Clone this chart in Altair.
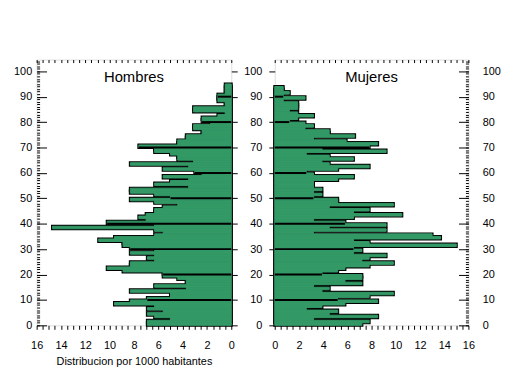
import altair as alt
import pandas as pd

# ---- data (distribution per 1000 inhabitants, by single year of age) ----
edad_h = list(range(95))
hombres = [6.9, 6.9, 5.0, 6.3, 6.9, 5.6, 6.9, 6.3, 9.6, 8.3,
           6.9, 5.0, 5.0, 8.3, 3.7, 6.3, 3.7, 3.7, 4.4, 5.6,
           5.6, 8.9, 10.2, 8.3, 8.3, 6.3, 6.9, 6.3, 8.3, 6.3,
           8.3, 8.9, 8.9, 10.9, 9.6, 6.3, 5.6, 6.3, 14.7, 6.3,
           10.2, 7.0, 7.6, 7.0, 6.3, 6.3, 5.6, 4.4, 6.3, 8.3,
           5.0, 6.3, 8.3, 8.3, 3.5, 6.3, 5.0, 3.5, 5.6, 2.4,
           3.0, 5.6, 3.5, 8.3, 3.1, 4.4, 4.4, 5.0, 6.3, 6.3,
           7.6, 4.4, 4.4, 3.7, 3.7, 2.4, 2.4, 3.1, 3.1, 1.7,
           2.4, 2.4, 1.1, 0.5, 3.1, 3.1, 0.5, 0.5, 1.1, 1.1,
           1.1, 0.5, 0.5, 0.5, 0.5]
edad_m = list(range(94))
mujeres = [7.2, 7.8, 3.2, 8.5, 4.5, 5.2, 2.6, 3.9, 5.8, 8.5,
           5.2, 7.8, 9.8, 3.9, 4.5, 3.2, 7.2, 5.8, 7.2, 7.2,
           3.9, 5.2, 5.8, 7.8, 9.8, 7.2, 7.8, 9.2, 6.5, 7.2,
           6.5, 15.0, 7.8, 6.5, 13.7, 13.0, 3.2, 9.2, 4.5, 9.2,
           5.8, 3.2, 6.5, 10.5, 6.5, 7.8, 4.5, 9.8, 5.2, 5.2,
           3.2, 3.9, 3.2, 3.9, 3.2, 3.2, 3.2, 5.2, 6.5, 3.2,
           2.6, 5.2, 7.8, 4.5, 3.9, 6.5, 4.5, 2.6, 9.2, 3.9,
           7.8, 8.5, 5.9, 3.2, 6.6, 4.5, 4.5, 2.5, 3.2, 2.5,
           1.2, 1.9, 3.2, 1.9, 1.2, 1.9, 1.9, 1.9, 0.7, 2.5,
           0.7, 1.2, 0.7, 0.7]

titulo_h = "Hombres"
titulo_m = "Mujeres"
titulo_x = "Distribucion por 1000 habitantes"

y_mayores = list(range(0, 101, 10))
y_menores = list(range(0, 105))
x_ticks = [i / 2 for i in range(33)]

GREEN = "#339966"
FONT = "Liberation Sans"
PH = 269
YMAX = 104.6

df_h = pd.DataFrame({"edad": edad_h, "valor": hombres})
df_m = pd.DataFrame({"edad": edad_m, "valor": mujeres})

LBL = dict(labelFont=FONT, labelFontSize=11, labelColor="black",
           tickColor="black", domain=False, grid=False)


def panel(df, titulo, left, width):
    xs = alt.Scale(domain=[0, 16], nice=False, zero=False, reverse=left)
    ys = alt.Scale(domain=[0, YMAX], nice=False, zero=False)
    base = alt.Chart(df).transform_calculate(tope="datum.edad + 1", cero="0")

    x_bottom = alt.Axis(
        orient="bottom", values=x_ticks, tickSize=4, labelPadding=10,
        labelExpr="datum.value % 2 == 0 ? format(datum.value, 'd') : ''",
        labelOverlap=False, labelFlush=False,
        titleFont=FONT, titleFontSize=11, titleFontWeight="normal",
        titleColor="black", titlePadding=6, **LBL)
    x_top = alt.Axis(orient="top", values=x_ticks, tickSize=3, offset=-3,
                     labels=False, **LBL)

    if left:
        y_a = alt.Axis(orient="left", values=y_mayores, tickSize=10,
                       offset=-10, labelPadding=5, **LBL)
        y_b = alt.Axis(orient="left", values=y_menores, tickSize=3,
                       offset=-3, labels=False, **LBL)
        y_c = alt.Axis(orient="right", values=y_mayores, tickSize=6,
                       labels=False, **LBL)
        xtitle = titulo_x
    else:
        y_a = alt.Axis(orient="left", values=y_mayores, tickSize=6,
                       labelPadding=7, **LBL)
        y_b = alt.Axis(orient="right", values=y_menores, tickSize=3,
                       offset=-3, labels=False, **LBL)
        y_c = alt.Axis(orient="right", values=y_mayores, tickSize=10,
                       offset=-10, labelPadding=14, **LBL)
        xtitle = None

    negro = base.mark_rect(fill="black", stroke="black", strokeWidth=3).encode(
        x=alt.X("valor:Q", scale=xs, axis=x_bottom, title=xtitle),
        x2="cero:Q",
        y=alt.Y("edad:Q", scale=ys, axis=y_a, title=None),
        y2="tope:Q",
    )
    verde = base.mark_rect(fill=GREEN, stroke=GREEN, strokeWidth=1).encode(
        x=alt.X("valor:Q", scale=xs, axis=x_top, title=None),
        x2="cero:Q",
        y=alt.Y("edad:Q", scale=ys, axis=y_b, title=None),
        y2="tope:Q",
    )
    decadas = base.transform_filter(
        "datum.edad > 0 && datum.edad % 10 == 0"
    ).mark_rule(color="black", strokeWidth=2).encode(
        x=alt.X("valor:Q", scale=xs, axis=None),
        x2="cero:Q",
        y=alt.Y("edad:Q", scale=ys, axis=y_c, title=None),
    )
    texto = alt.Chart(pd.DataFrame({"t": [titulo]})).mark_text(
        font=FONT, fontSize=15, color="black", baseline="middle", align="center"
    ).encode(text="t:N", x=alt.value(width / 2), y=alt.value(18))

    return alt.layer(negro, verde, decadas, texto).resolve_axis(
        x="independent", y="independent"
    ).properties(width=width, height=PH)


chart = alt.hconcat(
    panel(df_h, titulo_h, True, 197),
    panel(df_m, titulo_m, False, 196),
    spacing=5,
).properties(
    padding={"top": 49, "left": 5, "right": 0, "bottom": 0}
).configure_view(stroke="black", strokeWidth=1).configure(background="white")

chart.save("out.html", embed_options={"renderer": "svg", "actions": False})
